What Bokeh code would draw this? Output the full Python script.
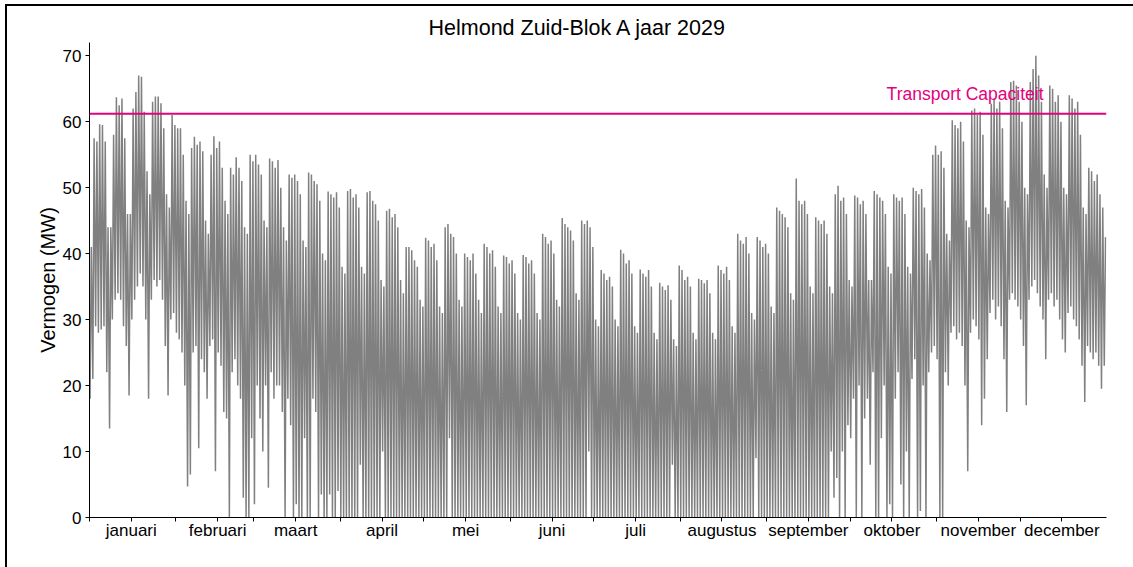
from bokeh.plotting import figure
from bokeh.models import Span, Label, FixedTicker, Range1d
from bokeh.embed import file_html
from bokeh.resources import INLINE

TITLE = "Helmond Zuid-Blok A jaar 2029"
Y_LABEL = "Vermogen (MW)"
CAP_LABEL = "Transport Capaciteit"
CAPACITY = 61.2

MONTHS = ["januari", "februari", "maart", "april", "mei", "juni", "juli",
          "augustus", "september", "oktober", "november", "december"]
MONTH_DAYS = [31, 28, 31, 30, 31, 30, 31, 31, 30, 31, 30, 31]
Y_TICKS = [0, 10, 20, 30, 40, 50, 60, 70]

# daily peak load (MW)
MAX_JAN = [41, 57.5, 57, 59.6, 59.5, 57, 44, 44, 58, 63.7, 62.5, 63.5, 57.5, 46, 46, 62, 64.5, 67, 66.8, 61.5,
           52.5, 49, 63, 63.8, 63.8, 62.8, 59, 49, 47, 61, 59.5]
MAX_FEB = [59, 59, 55, 48, 46, 56, 57.7, 56.5, 57, 55.5, 45, 43, 55, 57.8, 56, 57, 53, 48, 46, 53, 52, 54.6,
           53, 51, 44, 43, 55, 54]
MAX_MAR = [55, 53.5, 52, 45, 44, 54.4, 54, 53, 54.2, 50, 44, 42, 52, 51.5, 52, 51, 49, 42, 41, 52.3, 52, 51,
           50.5, 48, 40, 39, 49.4, 49, 48.5, 49.3, 47]
MAX_APR = [38, 37, 49.5, 49.8, 48.5, 49, 47, 38, 37, 49.3, 49.5, 48, 47.5, 45, 36, 35, 46.5, 46.8, 45.5, 46,
           44, 36, 34, 41, 41, 40.5, 39, 38, 33, 32]
MAX_MAY = [42.4, 42, 41, 41.5, 39, 32, 31, 44, 44.5, 43, 42.5, 40, 33, 32, 40, 39.5, 39, 40, 37, 33, 31, 41.5,
           41, 40, 40.5, 38, 32, 31, 39.7, 39.5, 38.5]
MAX_JUN = [39, 37, 31, 30, 39.8, 39.5, 38.5, 39, 37, 31, 30, 43, 42.5, 41.5, 42, 40, 33, 32, 45.4, 44.5, 44,
           43.5, 42, 34, 33, 45, 44.5, 45, 44, 41]
MAX_JUL = [30, 29, 37.5, 37, 36, 36.5, 35, 30, 29, 40.6, 40, 38.5, 39, 37, 29, 28, 37.6, 37, 36.5, 37.5, 35,
           28, 27, 35.6, 35, 34.5, 35.2, 33, 27, 26, 38.2]
MAX_AUG = [37.5, 36, 36.5, 35, 28, 27, 36.2, 36, 35.5, 36, 34, 28, 27, 38.2, 37.5, 37, 38, 36, 29, 28, 43, 42,
           41.5, 42.5, 40, 31, 30, 42.5, 42, 41, 41.5]
MAX_SEP = [40, 32, 31, 47, 46.5, 46, 45.5, 44, 34, 33, 51.4, 48, 47.5, 48, 46, 35, 34, 45.5, 45, 44.5, 45, 43,
           35, 34, 49, 50.3, 48, 48.5, 46, 36]
MAX_OCT = [35, 48.8, 48.5, 47.5, 48, 46, 36, 36, 49.5, 49, 48.5, 48, 46, 38, 37, 49, 48.5, 48, 48.5, 46, 38,
           37, 50, 49.5, 49, 49.8, 47, 40, 39, 55, 56.4]
MAX_NOV = [55, 55.5, 53, 43, 42, 60.2, 59.5, 59, 60, 57, 45, 44, 61.7, 62, 61, 61.5, 58, 47, 46, 62.7, 63.5,
           62, 63, 59, 48, 47, 66, 66.2, 65.5, 63]
MAX_DEC = [60, 50, 49, 66, 68, 70, 67, 63, 52, 50, 65.5, 65, 63, 64, 60, 50, 49, 64, 63.5, 62, 63, 58, 47, 46,
           53, 52.5, 51, 52, 49, 47, 42.5]

# daily lowest load (MW)
MIN_JAN = [18, 21, 29, 28, 28.5, 29, 22, 13.5, 30, 33, 34, 33, 29, 26, 18.5, 30, 33, 35, 37, 35, 30, 18, 33,
           36, 35, 36, 33, 26, 18.5, 30, 31]
MIN_FEB = [28, 27, 25, 20, 4.7, 6.5, 25, 26, 10.5, 24, 22, 18, 26, 27, 7, 25, 23, 16, 15, 0, 22, 24, 20, 18,
           3, 0, 0, 12]
MIN_MAR = [2, 20, 15, 10, 20, 4.5, 22, 18, 20, 20, 16, 0, 18, 14, 0, 2, 0, 0, 12, 0, 0, 18, 16, 0, 3.5, 0, 0,
           3.5, 0, 0, 4]
MIN_APR = [0, 0, 0, 0, 0, 0, 0, 8, 0, 0, 0, 0, 0, 0, 0, 10, 0, 0, 0, 0, 0, 0, 0, 0, 0, 0, 0, 0, 0, 0]
MIN_MAY = [0, 0, 0, 0, 0, 0, 0, 0, 0, 12, 0, 0, 0, 0, 0, 0, 0, 0, 0, 0, 0, 0, 0, 0, 0, 0, 0, 0, 0, 0, 0]
MIN_JUN = [0, 0, 0, 0, 0, 0, 0, 0, 0, 0, 0, 0, 0, 0, 0, 0, 0, 0, 0, 0, 0, 0, 0, 0, 0, 0, 0, 0, 10, 0]
MIN_JUL = [0, 0, 0, 0, 0, 0, 0, 0, 0, 0, 0, 0, 0, 0, 0, 0, 0, 0, 0, 0, 0, 0, 0, 0, 0, 0, 0, 0, 8, 0, 0]
MIN_AUG = [0, 0, 0, 0, 0, 0, 0, 0, 0, 0, 0, 0, 0, 0, 0, 0, 0, 0, 0, 0, 0, 0, 0, 0, 0, 0, 0, 9, 0, 0, 0]
MIN_SEP = [0, 0, 0, 0, 0, 0, 0, 0, 0, 0, 0, 0, 0, 0, 0, 0, 0, 0, 0, 0, 0, 0, 0, 10, 3, 6, 0, 10, 0, 14]
MIN_OCT = [12, 18, 0, 20, 0, 15, 18, 8, 22, 0, 0, 12, 20, 0, 2, 0, 18, 22, 5, 0, 10, 0, 21, 24, 0, 1, 20, 0,
           22, 25, 26]
MIN_NOV = [24, 0, 0, 22, 20, 28, 29, 27, 28, 26, 20, 7, 28, 30, 29, 27, 14, 18, 24, 31, 33, 30, 32, 29, 24,
           16, 33, 34, 33, 32]
MIN_DEC = [30, 26, 17, 33, 35, 36, 34, 32, 30, 24, 33, 34, 32, 33, 30, 27, 25, 31, 32, 30, 29, 27, 23, 17.5,
           26, 25, 24, 25, 23, 19.5, 23]

daily_max = (MAX_JAN + MAX_FEB + MAX_MAR + MAX_APR + MAX_MAY + MAX_JUN + MAX_JUL + MAX_AUG + MAX_SEP
             + MAX_OCT + MAX_NOV + MAX_DEC)
daily_min = (MIN_JAN + MIN_FEB + MIN_MAR + MIN_APR + MIN_MAY + MIN_JUN + MIN_JUL + MIN_AUG + MIN_SEP
             + MIN_OCT + MIN_NOV + MIN_DEC)
n_days = sum(MONTH_DAYS)

xs, ys = [], []
for d, (hi, lo) in enumerate(zip(daily_max, daily_min)):
    xs += [d + 0.2, d + 0.65]
    ys += [lo, hi]

FONT = "Liberation Sans"
PINK = "#E5007D"

p = figure(width=1126, height=561, output_backend="svg", toolbar_location=None,
           x_range=Range1d(0, n_days), y_range=Range1d(0, 72),
           min_border_left=82, min_border_right=27, min_border_top=36, min_border_bottom=50)
p.styles = {"outline": "2px solid black", "position": "relative", "left": "7px", "top": "6px"}
p.outline_line_color = None
p.background_fill_color = "white"
p.border_fill_color = "white"
p.xgrid.grid_line_color = None
p.ygrid.grid_line_color = None

p.title.text = TITLE
p.title.text_font = FONT
p.title.text_font_size = "21.5px"
p.title.text_font_style = "normal"
p.title.text_color = "black"
p.title.align = "left"
p.title.offset = 339
p.title.standoff = 6

p.line(xs, ys, line_color="#808080", line_width=1.5)

p.add_layout(Span(location=CAPACITY, dimension="width", line_color=PINK, line_width=2))
p.add_layout(Label(x=342.4, y=64.2, text=CAP_LABEL, text_align="right", text_baseline="alphabetic",
                   text_color=PINK, text_font=FONT, text_font_size="17.5px"))

starts = []
acc = 0
for m in MONTH_DAYS:
    starts.append(acc)
    acc += m
mids = [s + 15 for s in starts]
p.xaxis.ticker = FixedTicker(ticks=starts + mids)
overrides = {s: "" for s in starts}
overrides.update({m: name for m, name in zip(mids, MONTHS)})
p.xaxis.major_label_overrides = overrides

p.yaxis.ticker = FixedTicker(ticks=Y_TICKS)
p.yaxis.axis_label = Y_LABEL

for ax in (p.xaxis, p.yaxis):
    ax.axis_line_color = "black"
    ax.axis_line_width = 1
    ax.major_tick_line_color = "black"
    ax.major_tick_in = 0
    ax.major_tick_out = 4
    ax.minor_tick_line_color = None
    ax.major_label_text_font = FONT
    ax.major_label_text_font_size = "17px"
    ax.major_label_text_color = "black"
    ax.axis_label_text_font = FONT
    ax.axis_label_text_font_size = "20px"
    ax.axis_label_text_font_style = "normal"
    ax.axis_label_text_color = "black"

p.xaxis.major_label_standoff = -1
p.yaxis.major_label_standoff = 4
p.yaxis.axis_label_standoff = 1

open("out.html", "w").write(file_html(p, INLINE))
